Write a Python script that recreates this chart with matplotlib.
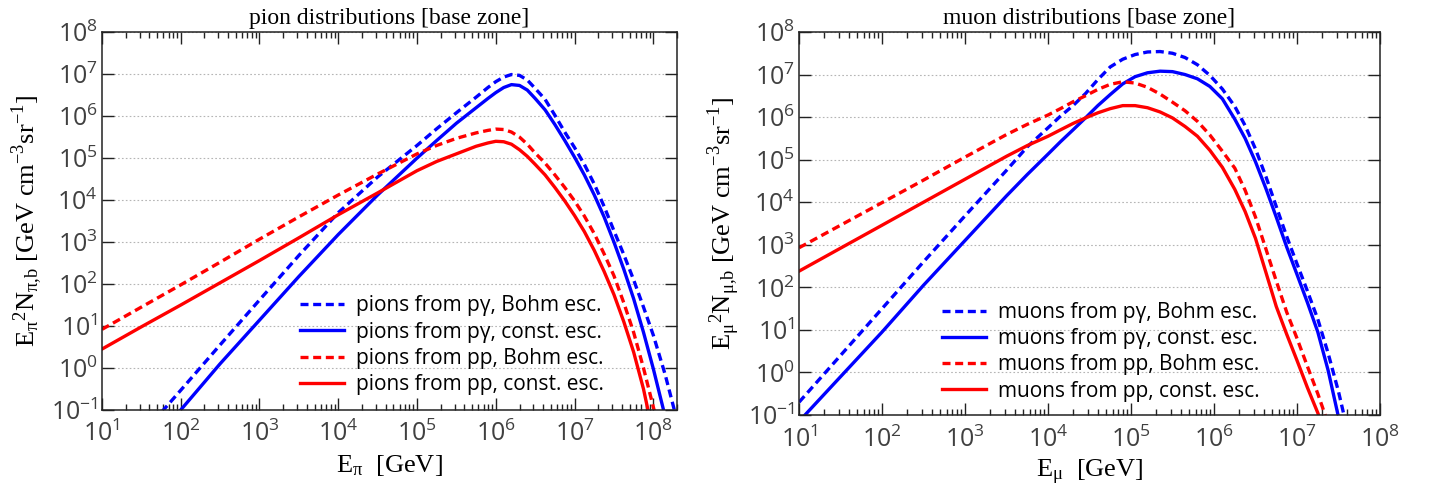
import matplotlib
matplotlib.use('Agg')
import math
import matplotlib.pyplot as plt
from matplotlib.ticker import LogLocator, NullLocator, FuncFormatter, NullFormatter

# ---------------- data: pions (left panel) ----------------
pion_E = [10, 31.6, 100, 316, 1e3, 3.16e3, 1e4, 3.16e4, 1e5, 1.78e5, 3.16e5, 5.62e5,
          7.94e5, 1e6, 1.26e6, 1.58e6, 2.0e6, 2.51e6, 3.16e6, 4.22e6, 5.62e6, 7.5e6,
          1e7, 1.33e7, 1.78e7, 2.37e7, 3.16e7, 4.22e7, 5.62e7, 7.5e7, 1e8, 1.41e8, 2e8]
pion_pg_bohm = [2.51e-3, 2.51e-2, 0.295, 3.55, 41.7, 479, 5.01e3, 3.55e4, 2.0e5, 5.01e5,
                1.2e6, 2.82e6, 4.79e6, 6.61e6, 8.51e6, 9.77e6, 9.33e6, 7.24e6, 4.57e6,
                2.51e6, 1.05e6, 4.17e5, 1.78e5, 7.08e4, 2.4e4, 7.08e3, 1.86e3, 501, 126,
                28.2, 6.03, 0.708, 0.0562]
pion_pg_const = [7.94e-4, 8.91e-3, 0.1, 1.26, 13.8, 151, 1.51e3, 1.32e4, 1e5, 2.63e5,
                 6.76e5, 1.58e6, 2.63e6, 3.63e6, 4.79e6, 5.62e6, 5.37e6, 4.17e6, 2.63e6,
                 1.41e6, 6.31e5, 2.63e5, 1.05e5, 3.98e4, 1.32e4, 3.98e3, 1e3, 224, 44.7,
                 7.08, 0.955, 0.0708, 5.01e-3]
pion_pp_bohm = [8.32, 28.2, 95.5, 331, 1.17e3, 3.98e3, 1.32e4, 4.17e4, 1.26e5, 2.0e5,
                2.95e5, 3.98e5, 4.57e5, 4.9e5, 4.79e5, 4.17e5, 3.16e5, 2.14e5, 1.32e5,
                7.59e4, 3.98e4, 2.0e4, 9.55e3, 4.17e3, 1.58e3, 525, 158, 35.5, 7.08,
                1.0, 0.117, 0.01, 6.31e-4]
pion_pp_const = [2.82, 9.55, 31.6, 107, 363, 1.26e3, 4.47e3, 1.48e4, 5.01e4, 8.32e4,
                 1.26e5, 1.91e5, 2.29e5, 2.51e5, 2.45e5, 2.14e5, 1.58e5, 1.1e5, 7.08e4,
                 3.98e4, 2.0e4, 9.55e3, 4.27e3, 1.78e3, 631, 200, 56.2, 12.6, 2.4,
                 0.316, 0.0251, 1.58e-3, 1e-4]

# ---------------- data: muons (right panel) ----------------
muon_E = [10, 31.6, 100, 316, 1e3, 3.16e3, 5.62e3, 1e4, 1.41e4, 2.0e4, 2.82e4, 3.98e4,
          5.62e4, 7.94e4, 1.12e5, 1.58e5, 2.24e5, 3.16e5, 4.47e5, 6.31e5, 8.91e5,
          1.26e6, 1.78e6, 2.37e6, 3.16e6, 4.22e6, 5.62e6, 7.5e6, 1e7, 1.33e7, 1.78e7,
          2.37e7, 3.16e7, 4.22e7, 5.62e7]
muon_pg_bohm = [0.2, 2.51, 31.6, 398, 4.79e3, 5.62e4, 2.0e5, 5.62e5, 1.05e6, 1.86e6,
                3.55e6, 7.59e6, 1.51e7, 2.29e7, 2.95e7, 3.39e7, 3.47e7, 3.16e7, 2.51e7,
                1.7e7, 9.55e6, 4.57e6, 1.78e6, 6.31e5, 1.78e5, 3.98e4, 7.94e3, 1.58e3,
                355, 83.2, 17.8, 2.82, 0.355, 0.0316, 2.51e-3]
muon_pg_const = [0.0708, 0.794, 8.91, 112, 1.26e3, 1.41e4, 4.47e4, 1.35e5, 2.63e5, 5.01e5,
                 9.55e5, 1.86e6, 3.39e6, 6.03e6, 8.91e6, 1.1e7, 1.2e7, 1.17e7, 1.0e7,
                 7.94e6, 5.25e6, 2.69e6, 8.91e5, 3.16e5, 8.91e4, 2.09e4, 4.47e3, 891,
                 200, 44.7, 8.91, 1.12, 0.0891, 0.01, 1e-3]
muon_pp_bohm = [851, 2.88e3, 9.77e3, 3.31e4, 1.15e5, 3.89e5, 6.76e5, 1.12e6, 1.58e6, 2.29e6,
                3.16e6, 4.47e6, 5.89e6, 6.76e6, 6.31e6, 5.01e6, 3.47e6, 2.24e6, 1.41e6,
                7.94e5, 3.8e5, 1.58e5, 6.31e4, 1.91e4, 4.47e3, 794, 141, 26.3, 6.31,
                1.41, 0.316, 0.0631, 0.0126, 2.51e-3, 5.01e-4]
muon_pp_const = [240, 832, 2.88e3, 1e4, 3.47e4, 1.2e5, 2.14e5, 3.55e5, 5.01e5, 7.08e5,
                 9.55e5, 1.26e6, 1.58e6, 1.86e6, 1.86e6, 1.66e6, 1.32e6, 9.55e5, 6.03e5,
                 3.55e5, 1.66e5, 6.61e4, 2.0e4, 6.03e3, 1.41e3, 224, 35.5, 7.94, 1.91,
                 0.447, 0.112, 0.0224, 5.01e-3, 1e-3, 2.0e-4]

pion_labels = ['pions from pγ, Bohm esc.', 'pions from pγ, const. esc.',
               'pions from pp, Bohm esc.', 'pions from pp, const. esc.']
muon_labels = ['muons from pγ, Bohm esc.', 'muons from pγ, const. esc.',
               'muons from pp, Bohm esc.', 'muons from pp, const. esc.']

SANS = ['Open Sans', 'DejaVu Sans']
SERIF = ['Liberation Serif', 'DejaVu Serif']
TICKCOL = '#404040'

fig = plt.figure(figsize=(14.32, 4.92), dpi=100)
axL = fig.add_axes([0.0712, 0.1667, 0.4016, 0.768])
axR = fig.add_axes([0.558, 0.1565, 0.4057, 0.7785])


def fmt(v, pos):
    e = int(round(math.log10(v)))
    return r'$\mathregular{10^{%d}}$' % e


def style(ax, xmax):
    ax.set_xscale('log')
    ax.set_yscale('log')
    ax.set_xlim(10, xmax)
    ax.set_ylim(0.1, 1e8)
    ax.xaxis.set_major_locator(LogLocator(base=10, numticks=20))
    ax.xaxis.set_minor_locator(LogLocator(base=10, subs=range(2, 10), numticks=50))
    ax.xaxis.set_minor_formatter(NullFormatter())
    ax.xaxis.set_major_formatter(FuncFormatter(fmt))
    ax.yaxis.set_major_locator(LogLocator(base=10, numticks=20))
    ax.yaxis.set_minor_locator(NullLocator())
    ax.yaxis.set_major_formatter(FuncFormatter(fmt))
    ax.tick_params(which='both', direction='in', top=True, right=True,
                   colors='#222222', labelcolor=TICKCOL, width=1.0)
    ax.tick_params(which='major', length=8.5)
    ax.tick_params(which='minor', length=4.3)
    ax.tick_params(axis='x', which='major', pad=8)
    ax.tick_params(axis='y', which='major', pad=3)
    for lab in ax.get_xticklabels() + ax.get_yticklabels():
        lab.set_fontfamily(SANS)
        lab.set_fontsize(18)
    for sp in ax.spines.values():
        sp.set_linewidth(1.1)
        sp.set_color('#222222')
    ax.yaxis.grid(True, which='major', linestyle=(0, (1.5, 2)), color='#b5b5b5', linewidth=0.8)
    ax.xaxis.grid(False)
    ax.set_axisbelow(True)


def draw(ax, E, series, labels):
    cols = ['#0000ff', '#0000ff', '#ff0000', '#ff0000']
    dashed = [True, False, True, False]
    for y, lab, c, d in zip(series, labels, cols, dashed):
        ls = (0, (2.4, 1.4)) if d else '-'
        ax.plot(E, y, color=c, lw=2.4, linestyle=ls, label=lab,
                solid_joinstyle='round', dash_joinstyle='round')


draw(axL, pion_E, [pion_pg_bohm, pion_pg_const, pion_pp_bohm, pion_pp_const], pion_labels)
draw(axR, muon_E, [muon_pg_bohm, muon_pg_const, muon_pp_bohm, muon_pp_const], muon_labels)
style(axL, 2e8)
style(axR, 1e8)

for ax, title, xl, yl, lx, ly in [
        (axL, 'pion distributions [base zone]', r'$\mathregular{E_{π}}$  [GeV]',
         r'$\mathregular{E_{π}{}^{2}N_{π{,}b}}$ [GeV cm$^{\mathregular{-3}}$sr$^{\mathregular{-1}}$]',
         0.344, 0.303),
        (axR, 'muon distributions [base zone]', r'$\mathregular{E_{μ}}$  [GeV]',
         r'$\mathregular{E_{μ}{}^{2}N_{μ{,}b}}$ [GeV cm$^{\mathregular{-3}}$sr$^{\mathregular{-1}}$]',
         0.246, 0.295)]:
    ax.set_title(title, fontfamily=SERIF, fontsize=17, pad=6)
    ax.set_xlabel(xl, fontfamily=SERIF, fontsize=19, labelpad=4)
    ax.set_ylabel(yl, fontfamily=SERIF, fontsize=19, labelpad=4)
    ax.legend(loc='upper left', bbox_to_anchor=(lx, ly), frameon=False,
              prop={'family': SANS, 'size': 15}, handlelength=2.1,
              handletextpad=0.6, labelspacing=0.25, borderpad=0, borderaxespad=0)

fig.savefig('out.png', dpi=100, facecolor='white')
